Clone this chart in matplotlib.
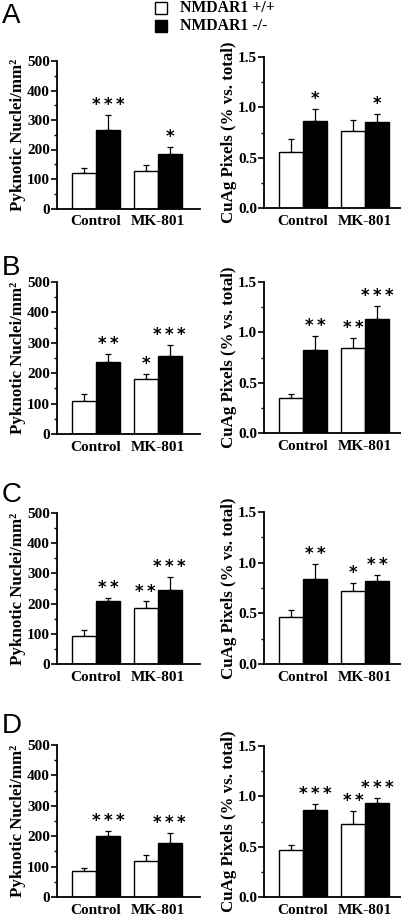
import matplotlib
matplotlib.use("Agg")
import matplotlib.pyplot as plt
from matplotlib.ticker import MultipleLocator, FormatStrFormatter
from matplotlib.patches import Rectangle

plt.rcParams['font.family'] = ['Liberation Serif', 'DejaVu Serif']

groups = ['Control', 'MK-801']
genotypes = ['NMDAR1 +/+', 'NMDAR1 -/-']
panels = ['A', 'B', 'C', 'D']

# pyknotic nuclei / mm2 : [Control +/+, Control -/-, MK-801 +/+, MK-801 -/-]
pyk_mean = [[119, 265, 128, 185],
            [107, 238, 180, 255],
            [94, 209, 187, 246],
            [86, 201, 120, 179]]
pyk_err = [[19, 53, 19, 24],
           [25, 25, 18, 37],
           [19, 9, 20, 42],
           [9, 15, 19, 31]]
pyk_sig = [['', '***', '', '*'],
           ['', '**', '*', '***'],
           ['', '**', '**', '***'],
           ['', '***', '', '***']]

# CuAg pixels (% vs. total)
cuag_mean = [[0.56, 0.86, 0.76, 0.85],
             [0.35, 0.82, 0.84, 1.13],
             [0.46, 0.84, 0.72, 0.82],
             [0.47, 0.86, 0.73, 0.93]]
cuag_err = [[0.13, 0.12, 0.11, 0.08],
            [0.04, 0.14, 0.10, 0.13],
            [0.07, 0.15, 0.08, 0.06],
            [0.05, 0.06, 0.12, 0.05]]
cuag_sig = [['', '*', '', '*'],
            ['', '**', '**', '***'],
            ['', '**', '*', '**'],
            ['', '***', '**', '***']]

W, H = 402, 919
fig = plt.figure(figsize=(W / 100, H / 100), dpi=100)

# bar positions (bar width = 1 unit)
xpos = [1.125, 2.125, 3.7, 4.7]
colors = ['white', 'black']

# pixel geometry of each row: (y of zero line, y of top tick)
rows_left = [(208.5, 61), (434, 282), (664, 513), (897, 745)]
rows_right = [(208, 57), (433, 282), (664, 512), (897, 746)]
letter_y = [23, 275, 502, 733]


def axes_px(x0, x1, ybot, ytop):
    return fig.add_axes([x0 / W, 1 - ybot / H, (x1 - x0) / W, (ybot - ytop) / H])


def draw(ax, means, errs, sigs, ymax, major, minor, fmt, xmax, ylabel, star_off):
    for i, (m, e) in enumerate(zip(means, errs)):
        ax.bar(xpos[i], m, width=1.0, color=colors[i % 2], edgecolor='black',
               linewidth=1.0, zorder=2)
        ax.errorbar(xpos[i], m, yerr=[[0], [e]], fmt='none', ecolor='black',
                    elinewidth=0.9, capsize=2.5, capthick=0.9, zorder=1)
        if sigs[i]:
            ax.text(xpos[i], m + e + star_off, '\u2009'.join(sigs[i]), ha='center',
                    va='bottom', fontsize=12, fontweight='bold', family='DejaVu Sans')
    ax.set_xlim(0, xmax)
    ax.set_ylim(0, ymax)
    ax.yaxis.set_major_locator(MultipleLocator(major))
    ax.yaxis.set_minor_locator(MultipleLocator(minor))
    ax.yaxis.set_major_formatter(FormatStrFormatter(fmt))
    ax.set_xticks([1.625, 4.2])
    ax.set_xticklabels(groups, fontsize=11, fontweight='bold')
    ax.tick_params(axis='x', length=0, pad=5)
    ax.tick_params(axis='y', which='major', length=4, width=1.2, labelsize=11, pad=1)
    ax.tick_params(axis='y', which='minor', length=2.5, width=1.0)
    for lab in ax.get_yticklabels():
        lab.set_fontweight('bold')
    ax.spines['top'].set_visible(False)
    ax.spines['right'].set_visible(False)
    ax.spines['left'].set_linewidth(1.3)
    ax.spines['bottom'].set_linewidth(1.3)
    ax.set_ylabel(ylabel, fontsize=12.2, fontweight='bold', labelpad=1)


for r in range(4):
    ybot, ytop = rows_left[r]
    axl = axes_px(57, 200, ybot, ytop)
    draw(axl, pyk_mean[r], pyk_err[r], pyk_sig[r], 500, 100, 50, '%d', 5.96,
         'Pyknotic Nuclei/mm²', 3)
    ybot, ytop = rows_right[r]
    axr = axes_px(264, 401, ybot, ytop)
    draw(axr, cuag_mean[r], cuag_err[r], cuag_sig[r], 1.5, 0.5, 0.25, '%.1f', 5.7,
         'CuAg Pixels (% vs. total)', 0.01)
    fig.text(2 / W, 1 - letter_y[r] / H, panels[r], fontsize=20,
             family='Liberation Sans', ha='left', va='baseline')

# legend
for k, (lab, c) in enumerate(zip(genotypes, colors)):
    yc = 8 + k * 18
    fig.patches.append(Rectangle((155 / W, 1 - (yc + 6) / H), 12 / W, 12 / H,
                                 transform=fig.transFigure, facecolor=c,
                                 edgecolor='black', linewidth=1.0))
    fig.text(180 / W, 1 - yc / H, lab, fontsize=11.3, fontweight='bold',
             ha='left', va='center')

fig.savefig('out.png', dpi=100)
